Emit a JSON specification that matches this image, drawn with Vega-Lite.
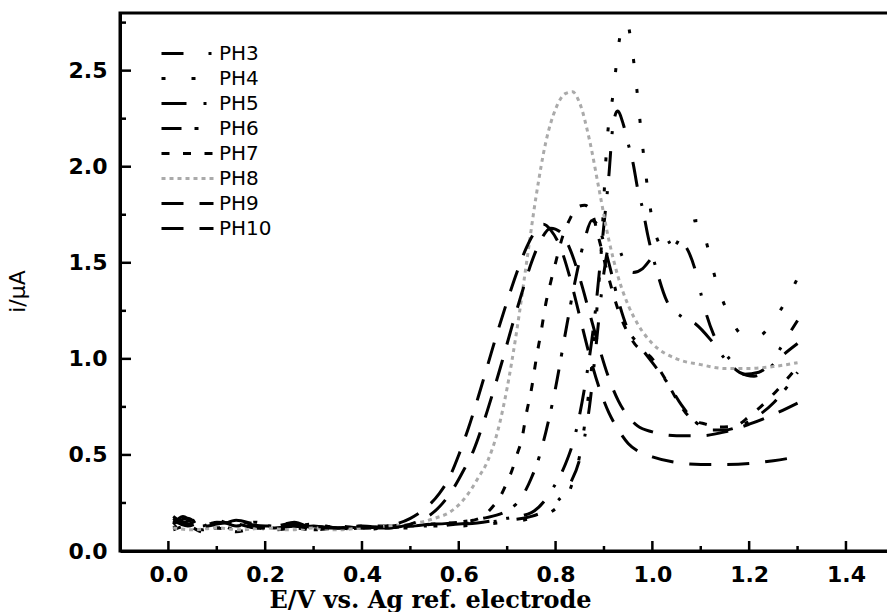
{
  "$schema": "https://vega.github.io/schema/vega-lite/v6.json",
  "width": 770,
  "height": 538,
  "autosize": "none",
  "padding": {"left": 120, "top": 13, "right": 0, "bottom": 61},
  "background": "white",
  "config": {
    "view": {"stroke": "black", "strokeWidth": 3},
    "axis": {"domainColor": "black", "domainWidth": 3, "ticks": false, "grid": false,
      "labelFont": "DejaVu Sans", "labelFontWeight": "bold", "labelFontSize": 22, "labelColor": "black", "titleColor": "black"},
    "legend": {"labelFont": "DejaVu Sans", "labelFontSize": 20, "labelColor": "black"}
  },
  "datasets": {
    "xmaj": [{"t":0},{"t":0.2},{"t":0.4},{"t":0.6},{"t":0.8},{"t":1.0},{"t":1.2},{"t":1.4}],
    "xmin": [{"t":0.1},{"t":0.3},{"t":0.5},{"t":0.7},{"t":0.9},{"t":1.1},{"t":1.3}],
    "ymaj": [{"t":0.5},{"t":1.0},{"t":1.5},{"t":2.0},{"t":2.5}],
    "ymin": [{"t":0.25},{"t":0.75},{"t":1.25},{"t":1.75},{"t":2.25},{"t":2.75}],
    "curves": [
    {"x":0.01,"y":0.16,"p":"PH3"},{"x":0.04,"y":0.13,"p":"PH3"},{"x":0.07,"y":0.15,"p":"PH3"},{"x":0.1,"y":0.12,"p":"PH3"},{"x":0.14,"y":0.14,"p":"PH3"},{"x":0.18,"y":0.12,"p":"PH3"},{"x":0.22,"y":0.15,"p":"PH3"},{"x":0.26,"y":0.12,"p":"PH3"},{"x":0.3,"y":0.13,"p":"PH3"},{"x":0.35,"y":0.11,"p":"PH3"},{"x":0.4,"y":0.12,"p":"PH3"},{"x":0.45,"y":0.12,"p":"PH3"},{"x":0.5,"y":0.13,"p":"PH3"},{"x":0.55,"y":0.13,"p":"PH3"},{"x":0.6,"y":0.14,"p":"PH3"},{"x":0.65,"y":0.15,"p":"PH3"},{"x":0.7,"y":0.16,"p":"PH3"},{"x":0.75,"y":0.18,"p":"PH3"},{"x":0.8,"y":0.25,"p":"PH3"},{"x":0.83,"y":0.35,"p":"PH3"},{"x":0.85,"y":0.48,"p":"PH3"},{"x":0.87,"y":0.75,"p":"PH3"},{"x":0.885,"y":1.1,"p":"PH3"},{"x":0.9,"y":1.45,"p":"PH3"},{"x":0.91,"y":1.58,"p":"PH3"},{"x":0.925,"y":1.6,"p":"PH3"},{"x":0.94,"y":1.52,"p":"PH3"},{"x":0.96,"y":1.45,"p":"PH3"},{"x":0.98,"y":1.47,"p":"PH3"},{"x":1.0,"y":1.53,"p":"PH3"},{"x":1.03,"y":1.6,"p":"PH3"},{"x":1.05,"y":1.62,"p":"PH3"},{"x":1.07,"y":1.58,"p":"PH3"},{"x":1.09,"y":1.45,"p":"PH3"},{"x":1.105,"y":1.29,"p":"PH3"},{"x":1.126,"y":1.13,"p":"PH3"},{"x":1.15,"y":1.03,"p":"PH3"},{"x":1.17,"y":0.97,"p":"PH3"},{"x":1.19,"y":0.92,"p":"PH3"},{"x":1.22,"y":0.93,"p":"PH3"},{"x":1.25,"y":1.0,"p":"PH3"},{"x":1.28,"y":1.12,"p":"PH3"},{"x":1.3,"y":1.2,"p":"PH3"},

    {"x":0.01,"y":0.12,"p":"PH4"},{"x":0.04,"y":0.15,"p":"PH4"},{"x":0.07,"y":0.11,"p":"PH4"},{"x":0.1,"y":0.14,"p":"PH4"},{"x":0.14,"y":0.11,"p":"PH4"},{"x":0.18,"y":0.13,"p":"PH4"},{"x":0.22,"y":0.1,"p":"PH4"},{"x":0.26,"y":0.14,"p":"PH4"},{"x":0.3,"y":0.11,"p":"PH4"},{"x":0.35,"y":0.12,"p":"PH4"},{"x":0.4,"y":0.11,"p":"PH4"},{"x":0.45,"y":0.12,"p":"PH4"},{"x":0.5,"y":0.12,"p":"PH4"},{"x":0.55,"y":0.13,"p":"PH4"},{"x":0.6,"y":0.13,"p":"PH4"},{"x":0.65,"y":0.14,"p":"PH4"},{"x":0.7,"y":0.15,"p":"PH4"},{"x":0.75,"y":0.17,"p":"PH4"},{"x":0.8,"y":0.22,"p":"PH4"},{"x":0.83,"y":0.32,"p":"PH4"},{"x":0.85,"y":0.5,"p":"PH4"},{"x":0.865,"y":0.75,"p":"PH4"},{"x":0.88,"y":1.1,"p":"PH4"},{"x":0.895,"y":1.6,"p":"PH4"},{"x":0.906,"y":2.12,"p":"PH4"},{"x":0.92,"y":2.4,"p":"PH4"},{"x":0.93,"y":2.63,"p":"PH4"},{"x":0.94,"y":2.74,"p":"PH4"},{"x":0.948,"y":2.75,"p":"PH4"},{"x":0.956,"y":2.65,"p":"PH4"},{"x":0.968,"y":2.4,"p":"PH4"},{"x":0.978,"y":2.15,"p":"PH4"},{"x":0.99,"y":1.89,"p":"PH4"},{"x":1.005,"y":1.66,"p":"PH4"},{"x":1.03,"y":1.56,"p":"PH4"},{"x":1.05,"y":1.6,"p":"PH4"},{"x":1.07,"y":1.7,"p":"PH4"},{"x":1.095,"y":1.72,"p":"PH4"},{"x":1.11,"y":1.62,"p":"PH4"},{"x":1.13,"y":1.42,"p":"PH4"},{"x":1.16,"y":1.22,"p":"PH4"},{"x":1.19,"y":1.12,"p":"PH4"},{"x":1.22,"y":1.12,"p":"PH4"},{"x":1.25,"y":1.2,"p":"PH4"},{"x":1.28,"y":1.32,"p":"PH4"},{"x":1.3,"y":1.42,"p":"PH4"},

    {"x":0.01,"y":0.18,"p":"PH5"},{"x":0.04,"y":0.14,"p":"PH5"},{"x":0.07,"y":0.17,"p":"PH5"},{"x":0.1,"y":0.13,"p":"PH5"},{"x":0.14,"y":0.16,"p":"PH5"},{"x":0.18,"y":0.14,"p":"PH5"},{"x":0.22,"y":0.13,"p":"PH5"},{"x":0.26,"y":0.15,"p":"PH5"},{"x":0.3,"y":0.12,"p":"PH5"},{"x":0.35,"y":0.13,"p":"PH5"},{"x":0.4,"y":0.12,"p":"PH5"},{"x":0.45,"y":0.13,"p":"PH5"},{"x":0.5,"y":0.13,"p":"PH5"},{"x":0.55,"y":0.14,"p":"PH5"},{"x":0.6,"y":0.14,"p":"PH5"},{"x":0.65,"y":0.15,"p":"PH5"},{"x":0.7,"y":0.17,"p":"PH5"},{"x":0.75,"y":0.2,"p":"PH5"},{"x":0.78,"y":0.27,"p":"PH5"},{"x":0.8,"y":0.35,"p":"PH5"},{"x":0.82,"y":0.45,"p":"PH5"},{"x":0.84,"y":0.6,"p":"PH5"},{"x":0.86,"y":0.85,"p":"PH5"},{"x":0.88,"y":1.2,"p":"PH5"},{"x":0.9,"y":1.7,"p":"PH5"},{"x":0.91,"y":1.95,"p":"PH5"},{"x":0.918,"y":2.2,"p":"PH5"},{"x":0.928,"y":2.29,"p":"PH5"},{"x":0.94,"y":2.22,"p":"PH5"},{"x":0.95,"y":2.12,"p":"PH5"},{"x":0.96,"y":2.02,"p":"PH5"},{"x":0.97,"y":1.88,"p":"PH5"},{"x":0.98,"y":1.78,"p":"PH5"},{"x":0.99,"y":1.65,"p":"PH5"},{"x":1.01,"y":1.45,"p":"PH5"},{"x":1.03,"y":1.3,"p":"PH5"},{"x":1.06,"y":1.22,"p":"PH5"},{"x":1.09,"y":1.18,"p":"PH5"},{"x":1.12,"y":1.1,"p":"PH5"},{"x":1.15,"y":1.0,"p":"PH5"},{"x":1.18,"y":0.93,"p":"PH5"},{"x":1.21,"y":0.91,"p":"PH5"},{"x":1.24,"y":0.95,"p":"PH5"},{"x":1.27,"y":1.02,"p":"PH5"},{"x":1.3,"y":1.08,"p":"PH5"},

    {"x":0.01,"y":0.14,"p":"PH6"},{"x":0.04,"y":0.17,"p":"PH6"},{"x":0.07,"y":0.13,"p":"PH6"},{"x":0.1,"y":0.16,"p":"PH6"},{"x":0.14,"y":0.13,"p":"PH6"},{"x":0.18,"y":0.15,"p":"PH6"},{"x":0.22,"y":0.12,"p":"PH6"},{"x":0.26,"y":0.13,"p":"PH6"},{"x":0.3,"y":0.14,"p":"PH6"},{"x":0.35,"y":0.12,"p":"PH6"},{"x":0.4,"y":0.13,"p":"PH6"},{"x":0.45,"y":0.13,"p":"PH6"},{"x":0.5,"y":0.14,"p":"PH6"},{"x":0.55,"y":0.14,"p":"PH6"},{"x":0.6,"y":0.15,"p":"PH6"},{"x":0.65,"y":0.17,"p":"PH6"},{"x":0.7,"y":0.21,"p":"PH6"},{"x":0.73,"y":0.28,"p":"PH6"},{"x":0.75,"y":0.38,"p":"PH6"},{"x":0.765,"y":0.48,"p":"PH6"},{"x":0.78,"y":0.62,"p":"PH6"},{"x":0.8,"y":0.85,"p":"PH6"},{"x":0.82,"y":1.13,"p":"PH6"},{"x":0.84,"y":1.4,"p":"PH6"},{"x":0.86,"y":1.62,"p":"PH6"},{"x":0.875,"y":1.72,"p":"PH6"},{"x":0.89,"y":1.68,"p":"PH6"},{"x":0.91,"y":1.5,"p":"PH6"},{"x":0.93,"y":1.3,"p":"PH6"},{"x":0.95,"y":1.15,"p":"PH6"},{"x":0.97,"y":1.08,"p":"PH6"},{"x":1.0,"y":0.98,"p":"PH6"},{"x":1.03,"y":0.88,"p":"PH6"},{"x":1.06,"y":0.76,"p":"PH6"},{"x":1.09,"y":0.67,"p":"PH6"},{"x":1.12,"y":0.63,"p":"PH6"},{"x":1.15,"y":0.63,"p":"PH6"},{"x":1.18,"y":0.65,"p":"PH6"},{"x":1.21,"y":0.69,"p":"PH6"},{"x":1.25,"y":0.77,"p":"PH6"},{"x":1.28,"y":0.86,"p":"PH6"},{"x":1.3,"y":0.93,"p":"PH6"},

    {"x":0.01,"y":0.11,"p":"PH7"},{"x":0.04,"y":0.13,"p":"PH7"},{"x":0.07,"y":0.1,"p":"PH7"},{"x":0.1,"y":0.12,"p":"PH7"},{"x":0.14,"y":0.1,"p":"PH7"},{"x":0.18,"y":0.12,"p":"PH7"},{"x":0.22,"y":0.11,"p":"PH7"},{"x":0.26,"y":0.12,"p":"PH7"},{"x":0.3,"y":0.11,"p":"PH7"},{"x":0.35,"y":0.12,"p":"PH7"},{"x":0.4,"y":0.12,"p":"PH7"},{"x":0.45,"y":0.12,"p":"PH7"},{"x":0.5,"y":0.13,"p":"PH7"},{"x":0.55,"y":0.14,"p":"PH7"},{"x":0.6,"y":0.15,"p":"PH7"},{"x":0.63,"y":0.16,"p":"PH7"},{"x":0.65,"y":0.18,"p":"PH7"},{"x":0.67,"y":0.23,"p":"PH7"},{"x":0.685,"y":0.28,"p":"PH7"},{"x":0.7,"y":0.36,"p":"PH7"},{"x":0.71,"y":0.42,"p":"PH7"},{"x":0.72,"y":0.5,"p":"PH7"},{"x":0.73,"y":0.58,"p":"PH7"},{"x":0.74,"y":0.72,"p":"PH7"},{"x":0.75,"y":0.84,"p":"PH7"},{"x":0.76,"y":1.0,"p":"PH7"},{"x":0.77,"y":1.14,"p":"PH7"},{"x":0.78,"y":1.29,"p":"PH7"},{"x":0.79,"y":1.4,"p":"PH7"},{"x":0.8,"y":1.5,"p":"PH7"},{"x":0.815,"y":1.64,"p":"PH7"},{"x":0.83,"y":1.73,"p":"PH7"},{"x":0.845,"y":1.79,"p":"PH7"},{"x":0.86,"y":1.8,"p":"PH7"},{"x":0.875,"y":1.76,"p":"PH7"},{"x":0.89,"y":1.62,"p":"PH7"},{"x":0.91,"y":1.42,"p":"PH7"},{"x":0.93,"y":1.25,"p":"PH7"},{"x":0.96,"y":1.09,"p":"PH7"},{"x":1.0,"y":1.0,"p":"PH7"},{"x":1.03,"y":0.88,"p":"PH7"},{"x":1.05,"y":0.79,"p":"PH7"},{"x":1.08,"y":0.69,"p":"PH7"},{"x":1.11,"y":0.66,"p":"PH7"},{"x":1.14,"y":0.645,"p":"PH7"},{"x":1.17,"y":0.65,"p":"PH7"},{"x":1.2,"y":0.7,"p":"PH7"},{"x":1.24,"y":0.79,"p":"PH7"},{"x":1.28,"y":0.9,"p":"PH7"},{"x":1.3,"y":0.96,"p":"PH7"},

    {"x":0.01,"y":0.12,"p":"PH8"},{"x":0.05,"y":0.11,"p":"PH8"},{"x":0.1,"y":0.12,"p":"PH8"},{"x":0.15,"y":0.11,"p":"PH8"},{"x":0.2,"y":0.12,"p":"PH8"},{"x":0.25,"y":0.11,"p":"PH8"},{"x":0.3,"y":0.12,"p":"PH8"},{"x":0.35,"y":0.11,"p":"PH8"},{"x":0.4,"y":0.12,"p":"PH8"},{"x":0.45,"y":0.13,"p":"PH8"},{"x":0.5,"y":0.14,"p":"PH8"},{"x":0.55,"y":0.17,"p":"PH8"},{"x":0.58,"y":0.2,"p":"PH8"},{"x":0.6,"y":0.24,"p":"PH8"},{"x":0.62,"y":0.3,"p":"PH8"},{"x":0.64,"y":0.38,"p":"PH8"},{"x":0.66,"y":0.47,"p":"PH8"},{"x":0.68,"y":0.62,"p":"PH8"},{"x":0.7,"y":0.85,"p":"PH8"},{"x":0.72,"y":1.15,"p":"PH8"},{"x":0.74,"y":1.5,"p":"PH8"},{"x":0.76,"y":1.85,"p":"PH8"},{"x":0.78,"y":2.13,"p":"PH8"},{"x":0.8,"y":2.3,"p":"PH8"},{"x":0.82,"y":2.38,"p":"PH8"},{"x":0.835,"y":2.39,"p":"PH8"},{"x":0.85,"y":2.33,"p":"PH8"},{"x":0.87,"y":2.14,"p":"PH8"},{"x":0.89,"y":1.88,"p":"PH8"},{"x":0.91,"y":1.62,"p":"PH8"},{"x":0.93,"y":1.42,"p":"PH8"},{"x":0.95,"y":1.28,"p":"PH8"},{"x":0.97,"y":1.18,"p":"PH8"},{"x":1.0,"y":1.08,"p":"PH8"},{"x":1.05,"y":1.0,"p":"PH8"},{"x":1.1,"y":0.97,"p":"PH8"},{"x":1.15,"y":0.95,"p":"PH8"},{"x":1.2,"y":0.95,"p":"PH8"},{"x":1.25,"y":0.96,"p":"PH8"},{"x":1.3,"y":0.98,"p":"PH8"},

    {"x":0.01,"y":0.14,"p":"PH9"},{"x":0.03,"y":0.18,"p":"PH9"},{"x":0.05,"y":0.15,"p":"PH9"},{"x":0.08,"y":0.13,"p":"PH9"},{"x":0.1,"y":0.14,"p":"PH9"},{"x":0.15,"y":0.15,"p":"PH9"},{"x":0.2,"y":0.12,"p":"PH9"},{"x":0.25,"y":0.14,"p":"PH9"},{"x":0.3,"y":0.13,"p":"PH9"},{"x":0.35,"y":0.12,"p":"PH9"},{"x":0.4,"y":0.13,"p":"PH9"},{"x":0.45,"y":0.12,"p":"PH9"},{"x":0.5,"y":0.14,"p":"PH9"},{"x":0.53,"y":0.17,"p":"PH9"},{"x":0.56,"y":0.23,"p":"PH9"},{"x":0.59,"y":0.33,"p":"PH9"},{"x":0.61,"y":0.42,"p":"PH9"},{"x":0.63,"y":0.52,"p":"PH9"},{"x":0.65,"y":0.66,"p":"PH9"},{"x":0.67,"y":0.82,"p":"PH9"},{"x":0.69,"y":0.99,"p":"PH9"},{"x":0.71,"y":1.17,"p":"PH9"},{"x":0.73,"y":1.34,"p":"PH9"},{"x":0.75,"y":1.5,"p":"PH9"},{"x":0.77,"y":1.62,"p":"PH9"},{"x":0.79,"y":1.68,"p":"PH9"},{"x":0.81,"y":1.66,"p":"PH9"},{"x":0.83,"y":1.57,"p":"PH9"},{"x":0.85,"y":1.42,"p":"PH9"},{"x":0.87,"y":1.24,"p":"PH9"},{"x":0.89,"y":1.06,"p":"PH9"},{"x":0.91,"y":0.9,"p":"PH9"},{"x":0.93,"y":0.78,"p":"PH9"},{"x":0.95,"y":0.7,"p":"PH9"},{"x":0.97,"y":0.65,"p":"PH9"},{"x":1.0,"y":0.62,"p":"PH9"},{"x":1.05,"y":0.6,"p":"PH9"},{"x":1.1,"y":0.6,"p":"PH9"},{"x":1.15,"y":0.62,"p":"PH9"},{"x":1.2,"y":0.66,"p":"PH9"},{"x":1.25,"y":0.71,"p":"PH9"},{"x":1.3,"y":0.77,"p":"PH9"},

    {"x":0.01,"y":0.17,"p":"PH10"},{"x":0.03,"y":0.15,"p":"PH10"},{"x":0.05,"y":0.16,"p":"PH10"},{"x":0.08,"y":0.14,"p":"PH10"},{"x":0.1,"y":0.15,"p":"PH10"},{"x":0.15,"y":0.14,"p":"PH10"},{"x":0.2,"y":0.13,"p":"PH10"},{"x":0.25,"y":0.13,"p":"PH10"},{"x":0.3,"y":0.12,"p":"PH10"},{"x":0.35,"y":0.12,"p":"PH10"},{"x":0.4,"y":0.12,"p":"PH10"},{"x":0.45,"y":0.13,"p":"PH10"},{"x":0.5,"y":0.17,"p":"PH10"},{"x":0.53,"y":0.22,"p":"PH10"},{"x":0.56,"y":0.3,"p":"PH10"},{"x":0.58,"y":0.38,"p":"PH10"},{"x":0.6,"y":0.5,"p":"PH10"},{"x":0.62,"y":0.64,"p":"PH10"},{"x":0.64,"y":0.8,"p":"PH10"},{"x":0.66,"y":0.97,"p":"PH10"},{"x":0.68,"y":1.14,"p":"PH10"},{"x":0.7,"y":1.3,"p":"PH10"},{"x":0.72,"y":1.45,"p":"PH10"},{"x":0.74,"y":1.58,"p":"PH10"},{"x":0.76,"y":1.67,"p":"PH10"},{"x":0.775,"y":1.7,"p":"PH10"},{"x":0.79,"y":1.67,"p":"PH10"},{"x":0.81,"y":1.58,"p":"PH10"},{"x":0.83,"y":1.42,"p":"PH10"},{"x":0.85,"y":1.22,"p":"PH10"},{"x":0.87,"y":1.02,"p":"PH10"},{"x":0.89,"y":0.85,"p":"PH10"},{"x":0.91,"y":0.72,"p":"PH10"},{"x":0.93,"y":0.63,"p":"PH10"},{"x":0.95,"y":0.56,"p":"PH10"},{"x":0.97,"y":0.52,"p":"PH10"},{"x":1.0,"y":0.49,"p":"PH10"},{"x":1.05,"y":0.46,"p":"PH10"},{"x":1.1,"y":0.45,"p":"PH10"},{"x":1.15,"y":0.45,"p":"PH10"},{"x":1.2,"y":0.455,"p":"PH10"},{"x":1.25,"y":0.47,"p":"PH10"},{"x":1.3,"y":0.49,"p":"PH10"}
  ]},
  "layer": [
    {
      "data": {"name": "curves"},
      "mark": {"type": "line", "interpolate": "monotone", "clip": true},
      "encoding": {
        "x": {"field": "x", "type": "quantitative",
          "scale": {"domain": [-0.1, 1.491], "nice": false, "zero": false},
          "axis": {"title": "E/V vs. Ag ref. electrode", "titleFont": "DejaVu Serif", "titleFontWeight": "bold", "titleFontSize": 24,
            "titleBaseline": "middle", "titleY": 49, "titleX": 310,
            "values": [0, 0.2, 0.4, 0.6, 0.8, 1.0, 1.2, 1.4],
            "format": ".1f", "labelPadding": 13, "labelFlush": false, "labelOverlap": false}},
        "y": {"field": "y", "type": "quantitative",
          "scale": {"domain": [0, 2.8], "nice": false},
          "axis": {"title": "i/\u03bcA", "titleFont": "DejaVu Sans", "titleFontWeight": "normal", "titleFontSize": 22,
            "titleBaseline": "middle", "titleX": -103, "titleY": 278, "titleAngle": -90,
            "values": [0, 0.5, 1.0, 1.5, 2.0, 2.5],
            "format": ".1f", "labelPadding": 13, "labelOverlap": false}},
        "strokeDash": {"field": "p", "type": "nominal",
          "scale": {"domain": ["PH3","PH4","PH5","PH6","PH7","PH8","PH9","PH10"],
            "range": [[22,25,3,20],[4,26],[25,17,3,15],[20,13,4,16],[8,13.5],[4,4],[22,16],[22,16]]},
          "legend": {"title": null, "orient": "none", "legendX": 53, "legendY": 26, "symbolType": "M-2,0H2", "symbolSize": 676, "symbolStrokeWidth": 3, "rowPadding": 0, "labelOffset": 17, "padding": 0}},
        "color": {"field": "p", "type": "nominal",
          "scale": {"domain": ["PH3","PH4","PH5","PH6","PH7","PH8","PH9","PH10"],
            "range": ["#000000","#000000","#000000","#000000","#000000","#aaaaaa","#000000","#000000"]},
          "legend": {"title": null, "orient": "none", "legendX": 53, "legendY": 26, "symbolType": "M-2,0H2", "symbolSize": 676, "symbolStrokeWidth": 3, "rowPadding": 0, "labelOffset": 17, "padding": 0}},
        "strokeWidth": {"field": "p", "type": "nominal",
          "scale": {"domain": ["PH3","PH4","PH5","PH6","PH7","PH8","PH9","PH10"],
            "range": [3,3,3,3,3,1.3,3,3]},
          "legend": null}
      }
    },
    {
      "data": {"name": "xmaj"},
      "mark": {"type": "rule", "color": "black", "strokeWidth": 2.5, "y2Offset": -10},
      "encoding": {"x": {"field": "t", "type": "quantitative"}, "y": {"datum": 0}, "y2": {"datum": 0}}
    },
    {
      "data": {"name": "xmin"},
      "mark": {"type": "rule", "color": "black", "strokeWidth": 2.5, "y2Offset": -5},
      "encoding": {"x": {"field": "t", "type": "quantitative"}, "y": {"datum": 0}, "y2": {"datum": 0}}
    },
    {
      "data": {"name": "ymaj"},
      "mark": {"type": "rule", "color": "black", "strokeWidth": 2.5, "x2Offset": 11},
      "encoding": {"y": {"field": "t", "type": "quantitative"}, "x": {"datum": -0.1}, "x2": {"datum": -0.1}}
    },
    {
      "data": {"name": "ymin"},
      "mark": {"type": "rule", "color": "black", "strokeWidth": 2.5, "x2Offset": 6},
      "encoding": {"y": {"field": "t", "type": "quantitative"}, "x": {"datum": -0.1}, "x2": {"datum": -0.1}}
    }
  ]
}
